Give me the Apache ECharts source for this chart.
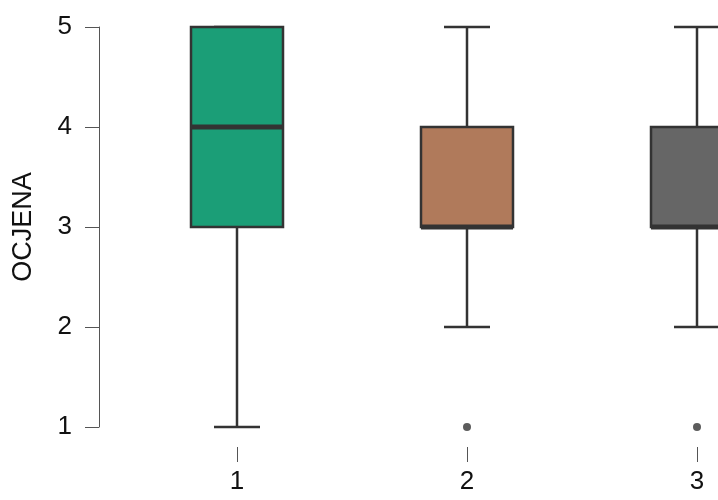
<!DOCTYPE html>
<html>
<head>
<meta charset="utf-8">
<script src="https://cdn.jsdelivr.net/npm/echarts@6/dist/echarts.min.js"></script>
<style>
  html, body { margin: 0; padding: 0; background: #fff; }
  #main { width: 718px; height: 500px; }
</style>
</head>
<body>
<div id="main"></div>
<script>
// groups and their five-number summaries
const categories = [1, 2, 3]
const mins = [1, 2, 2]
const q1s = [3, 3, 3]
const medians = [4, 3, 3]
const q3s = [5, 4, 4]
const maxs = [5, 5, 5]
const outliers = [[2, 1], [3, 1]] // [group, value]
const colors = ['#1b9e77', '#b07a5b', '#666666']
const yTicks = [1, 2, 3, 4, 5]

const chart = echarts.init(document.getElementById('main'))

const boxData = categories.map((c, i) => [c, mins[i], q1s[i], medians[i], q3s[i], maxs[i], i])

function renderBox(params, api) {
  const g = api.value(0)
  const unit = api.size([1, 0])[0]
  const half = unit * 0.2
  const capHalf = unit * 0.1
  const pMin = api.coord([g, api.value(1)])
  const pQ1 = api.coord([g, api.value(2)])
  const pMed = api.coord([g, api.value(3)])
  const pQ3 = api.coord([g, api.value(4)])
  const pMax = api.coord([g, api.value(5)])
  const x = pMin[0]
  const lineStyle = { stroke: '#333', lineWidth: 2.5 }
  return {
    type: 'group',
    children: [
      { type: 'line', shape: { x1: x, y1: pMin[1], x2: x, y2: pQ1[1] }, style: lineStyle },
      { type: 'line', shape: { x1: x, y1: pQ3[1], x2: x, y2: pMax[1] }, style: lineStyle },
      { type: 'line', shape: { x1: x - capHalf, y1: pMin[1], x2: x + capHalf, y2: pMin[1] }, style: lineStyle },
      { type: 'line', shape: { x1: x - capHalf, y1: pMax[1], x2: x + capHalf, y2: pMax[1] }, style: lineStyle },
      {
        type: 'rect',
        shape: { x: x - half, y: pQ3[1], width: half * 2, height: pQ1[1] - pQ3[1] },
        style: { fill: colors[api.value(6)], stroke: '#333', lineWidth: 2.5 }
      },
      { type: 'line', shape: { x1: x - half, y1: pMed[1], x2: x + half, y2: pMed[1] }, style: { stroke: '#333', lineWidth: 5 } }
    ]
  }
}

chart.setOption({
  animation: false,
  grid: { left: 99, right: 0, top: 27, bottom: 73 },
  xAxis: {
    type: 'value',
    min: 0.4,
    max: 3.0913,
    offset: 20,
    axisLine: { show: false },
    axisTick: { show: true, customValues: categories, length: 15, lineStyle: { color: '#555', width: 1 } },
    axisLabel: { customValues: categories, color: '#111', fontSize: 26, fontFamily: 'Liberation Sans', margin: 22 },
    splitLine: { show: false }
  },
  yAxis: {
    type: 'value',
    min: 1,
    max: 5,
    interval: 1,
    name: 'OCJENA',
    nameLocation: 'middle',
    nameGap: 62,
    nameTextStyle: { color: '#111', fontSize: 27, fontFamily: 'Liberation Sans' },
    axisLine: { show: true, lineStyle: { color: '#555', width: 1 } },
    axisTick: { show: true, length: 14, lineStyle: { color: '#555', width: 1 } },
    axisLabel: {
      customValues: yTicks,
      color: '#111', fontSize: 26, fontFamily: 'Liberation Sans', margin: 27
    },
    splitLine: { show: false }
  },
  series: [
    {
      type: 'custom',
      renderItem: renderBox,
      data: boxData,
      encode: { x: 0, y: [1, 2, 3, 4, 5] },
      clip: false
    },
    {
      type: 'scatter',
      data: outliers,
      symbol: 'circle',
      symbolSize: 8,
      itemStyle: { color: '#333' }
    }
  ]
})
</script>
</body>
</html>
